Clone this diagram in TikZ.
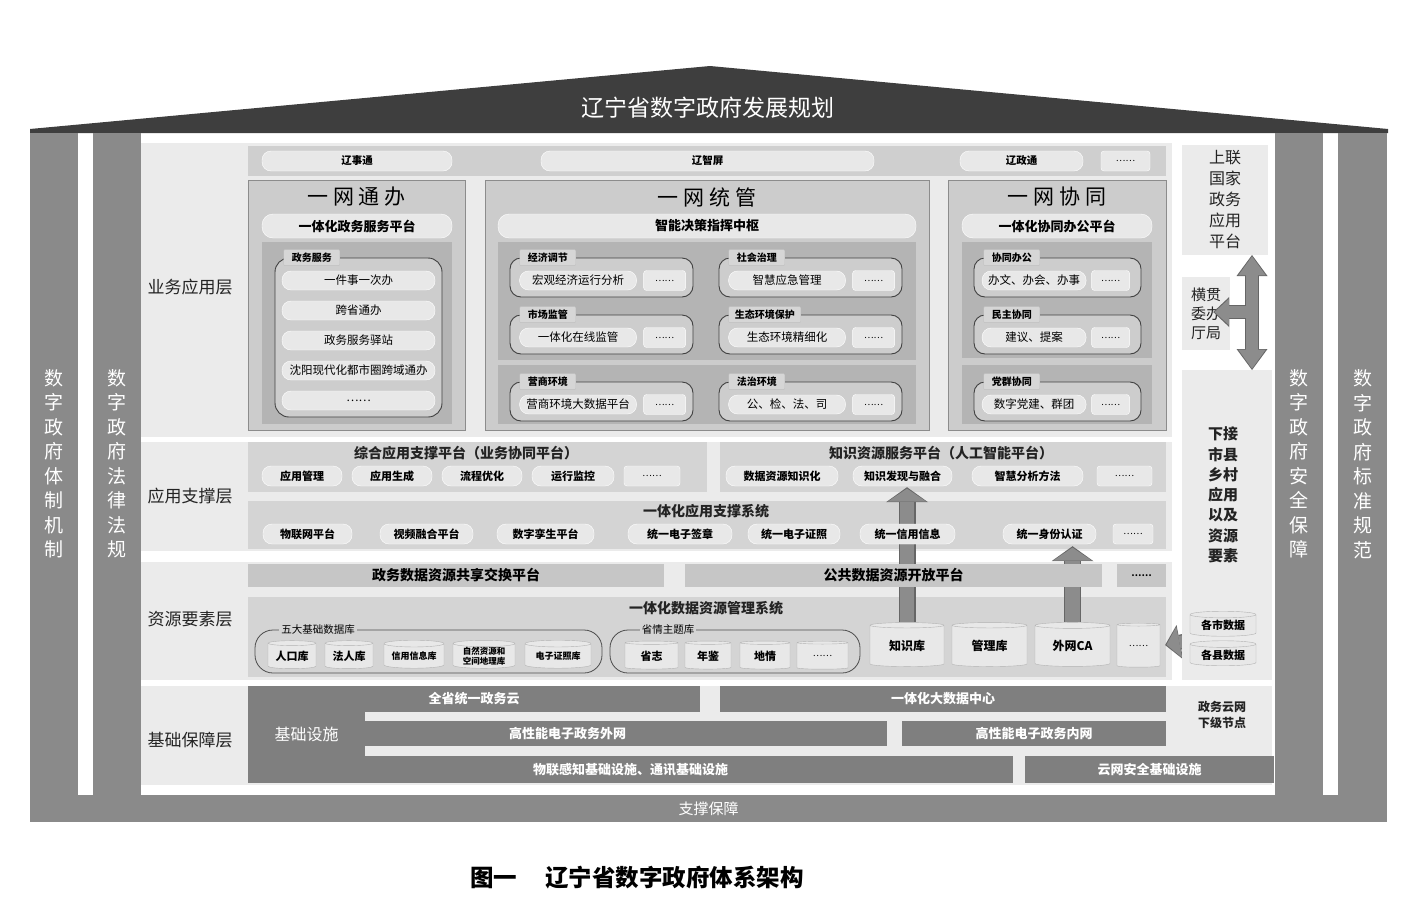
\documentclass[tikz,border=0pt]{standalone}
\usepackage{fontspec}
\setmainfont{Noto Sans CJK SC}
\usetikzlibrary{arrows.meta, positioning, shapes.geometric, calc}
\definecolor{roofgray}{RGB}{62,62,62}
\definecolor{pillargray}{RGB}{138,138,138}
\definecolor{bandgray}{RGB}{235,235,235}
\definecolor{stripgray}{RGB}{207,207,207}
\definecolor{boxgray}{RGB}{204,204,204}
\definecolor{panelgray}{RGB}{180,180,180}
\definecolor{framegray}{RGB}{205,205,205}
\definecolor{tabgray}{RGB}{214,214,214}
\definecolor{pillgray}{RGB}{232,232,232}
\definecolor{platgray}{RGB}{212,212,212}
\definecolor{sharegray}{RGB}{198,198,198}
\definecolor{infragray}{RGB}{127,127,127}
\definecolor{arrowgray}{RGB}{140,140,140}
\definecolor{inkgray}{RGB}{35,35,35}
\newcommand{\fsz}[1]{\fontsize{#1}{#1}\selectfont}
\pgfdeclarelayer{bg}
\pgfdeclarelayer{arr}
\pgfsetlayers{bg,arr,main}

\begin{document}
\begin{tikzpicture}[x=1pt, y=-1pt,
    pillar/.style={fill=pillargray, text=white, align=center, inner sep=0pt,
                   font=\fontsize{19}{24.5}\selectfont},
    band/.style={fill=bandgray, inner sep=0pt},
    lyr/.style={font=\fsz{17}, text=inkgray},
    strip/.style={fill=stripgray, inner sep=0pt},
    bigbox/.style={fill=boxgray, draw=black!45, inner sep=0pt},
    bigtitle/.style={font=\fsz{21}, text=black},
    subpill/.style={fill=pillgray, draw=white, rounded corners=11pt, minimum height=24pt,
                    font=\bfseries\fsz{13}, inner sep=0pt},
    pill/.style={fill=pillgray, draw=white, rounded corners=9pt, minimum height=20pt,
                 font=\bfseries\fsz{10.5}, inner sep=0pt},
    item/.style={fill=pillgray, draw=white, rounded corners=9pt, minimum height=19pt,
                 font=\fsz{11.5}, inner sep=0pt},
    more/.style={fill=pillgray, draw=white, rounded corners=3pt, minimum height=20pt,
                 font=\fsz{9}, inner sep=0pt},
    panel/.style={fill=panelgray, inner sep=0pt},
    grp/.style={fill=framegray, draw=black!75, line width=0.9pt, rounded corners=11pt,
                minimum height=39pt, inner sep=0pt},
    tab/.style={fill=tabgray, draw=black!25, font=\bfseries\fsz{10}, minimum height=16pt,
                inner sep=2pt, rounded corners=1pt},
    plat/.style={fill=platgray, inner sep=0pt},
    ptitle/.style={font=\bfseries\fsz{14}, text=inkgray},
    share/.style={fill=sharegray, font=\bfseries\fsz{14}, inner sep=0pt, minimum height=23pt},
    ring/.style={draw=black!70, line width=0.8pt, rounded corners=18pt, minimum height=43pt,
                 inner sep=0pt},
    db/.style={cylinder, shape border rotate=90, aspect=0.15, draw=black!30, fill=pillgray,
               inner sep=0pt, font=\bfseries\fsz{11}},
    infra/.style={fill=infragray, text=white, font=\bfseries\fsz{13}, inner sep=0pt},
    side/.style={fill=bandgray, inner sep=0pt, align=center, text=inkgray},
    edge/.style={draw=black!60},
    core/.style={draw=arrowgray}
  ]
  \useasboundingbox (0,0) rectangle (1420,916);

  % roof and frame
  \fill[roofgray] (30,133) -- (30,129) -- (710,66) -- (1388,129) -- (1388,133) -- cycle;
  \node[font=\fsz{23}, text=white] (roof) at (708,108) {辽宁省数字政府发展规划};

  \node[pillar, minimum width=48pt, minimum height=662pt] (mech) at (54,464) {数\\字\\政\\府\\体\\制\\机\\制};
  \node[pillar, minimum width=48pt, minimum height=662pt] (law) at (117,464) {数\\字\\政\\府\\法\\律\\法\\规};
  \node[pillar, minimum width=48pt, minimum height=662pt] (safe) at (1299,464) {数\\字\\政\\府\\安\\全\\保\\障};
  \node[pillar, minimum width=49pt, minimum height=662pt] (norm) at (1362.5,464) {数\\字\\政\\府\\标\\准\\规\\范};
  \node[pillar, minimum width=1357pt, minimum height=27pt, font=\fsz{15}] (base) at (708.5,808.5) {支撑保障};

  % layer bands
  \begin{pgfonlayer}{bg}
    \node[band, minimum width=1031pt, minimum height=294pt] (bizband) at (656.5,290) {};
    \node[band, minimum width=1031pt, minimum height=109pt] (supband) at (656.5,496.5) {};
    \node[band, minimum width=1031pt, minimum height=118pt] (resband) at (656.5,621) {};
    \node[band, minimum width=1131pt, minimum height=99pt] (infband) at (706.5,735.5) {};
    \node[plat, minimum width=459pt, minimum height=50pt] (comboplat) at (477.5,467) {};
    \node[plat, minimum width=446pt, minimum height=50pt] (knowplat) at (943,467) {};
    \node[plat, minimum width=918pt, minimum height=48pt] (supsys) at (707,525) {};
    \node[plat, minimum width=918pt, minimum height=80pt] (datasys) at (707,637) {};
  \end{pgfonlayer}

  \node[lyr] (bizlbl) at (190,287) {业务应用层};
  \node[lyr] (suplbl) at (190,496) {应用支撑层};
  \node[lyr] (reslbl) at (190,619) {资源要素层};
  \node[lyr] (inflbl) at (190,740) {基础保障层};

  % right column
  \node[side, minimum width=86pt, minimum height=110pt, font=\fontsize{16}{21}\selectfont] (upper) at (1225,200) {上联\\国家\\政务\\应用\\平台};
  \node[side, minimum width=48pt, minimum height=73pt, font=\fontsize{15}{19}\selectfont] (cross) at (1206,313.5) {横贯\\委办\\厅局};
  \node[side, minimum width=90pt, minimum height=310pt] (lower) at (1227,525) {};
  \node[align=center, text=inkgray, font=\bfseries\fontsize{15}{20.3}\selectfont] (lowertxt) at (1223,495) {下接\\市县\\乡村\\应用\\以及\\资源\\要素};

  % business apps
  \node[strip, minimum width=918pt, minimum height=30pt] (apps) at (707,161) {};
  \node[pill, minimum width=190pt] (lst) at (357,161) {辽事通};
  \node[pill, minimum width=333pt] (lzp) at (707.5,161) {辽智屏};
  \node[pill, minimum width=123pt] (lzt) at (1021.5,161) {辽政通};
  \node[more, minimum width=49pt] (appmore) at (1125.5,161) {……};

  \node[bigbox, minimum width=217pt, minimum height=250pt] (tongban) at (356.5,305) {};
  \node[bigbox, minimum width=444pt, minimum height=250pt] (tongguan) at (707,305) {};
  \node[bigbox, minimum width=218pt, minimum height=250pt] (xietong) at (1057,305) {};
  \node[bigtitle] (tongbant) at (356.5,197) {一 网 通 办};
  \node[bigtitle] (tongguant) at (707,197) {一 网 统 管};
  \node[bigtitle] (xietongt) at (1057,197) {一 网 协 同};
  \node[subpill, minimum width=190pt] (govplat) at (357,226) {一体化政务服务平台};
  \node[subpill, minimum width=418pt] (hub) at (707,226) {智能决策指挥中枢};
  \node[subpill, minimum width=190pt] (offplat) at (1057,226) {一体化协同办公平台};

  \node[panel, minimum width=190pt, minimum height=182pt] (govpanel) at (357,333) {};
  \node[panel, minimum width=418pt, minimum height=118pt] (mgpanel) at (707,301) {};
  \node[panel, minimum width=418pt, minimum height=59pt] (envpanel) at (707,394.5) {};
  \node[panel, minimum width=190pt, minimum height=116pt] (copanel) at (1057,300) {};
  \node[panel, minimum width=190pt, minimum height=59pt] (ptpanel) at (1057,394.5) {};

  \node[grp, minimum width=167pt, minimum height=159pt, rounded corners=14pt] (gov) at (358.5,337.5) {};
  \node[tab, minimum width=56pt, anchor=west] (govtab) at ($(gov.north west)+(9,0)$) {政务服务};
  \foreach \t [count=\i] in {一件事一次办, 跨省通办, 政务服务驿站, 沈阳现代化都市圈跨域通办, ……}
    \node[item, minimum width=153pt] (gov\i) at (358.5,250.5+30*\i) {\t};

  \foreach \g/\tabtxt/\itm/\cx/\cy/\tw in {
      econ/经济调节/宏观经济运行分析/601.5/277.5/56,
      soc/社会治理/智慧应急管理/810.5/277.5/56,
      mkt/市场监管/一体化在线监管/601.5/334.5/56,
      eco/生态环境保护/生态环境精细化/810.5/334.5/72,
      biz/营商环境/营商环境大数据平台/601.5/401.5/56,
      rule/法治环境/公、检、法、司/810.5/401.5/56}{
    \node[grp, minimum width=183pt] (\g) at (\cx,\cy) {};
    \node[tab, minimum width=\tw pt, anchor=west] (\g tab) at ($(\g.north west)+(10,0)$) {\tabtxt};
    \node[item, minimum width=117pt] (\g itm) at ($(\g.west)+(68.5,3)$) {\itm};
    \node[more, minimum width=42pt] (\g more) at ($(\g.west)+(155,3)$) {……};
  }

  \foreach \g/\tabtxt/\itm/\cy in {
      coop/协同办公/办文、办会、办事/277.5,
      demo/民主协同/建议、提案/334.5,
      party/党群协同/数字党建、群团/401.5}{
    \node[grp, minimum width=167pt] (\g) at (1057.5,\cy) {};
    \node[tab, minimum width=56pt, anchor=west] (\g tab) at ($(\g.north west)+(10,0)$) {\tabtxt};
    \node[item, minimum width=104pt] (\g itm) at ($(\g.west)+(60.5,3)$) {\itm};
    \node[more, minimum width=38pt] (\g more) at ($(\g.west)+(137,3)$) {……};
  }

  % application support
  \node[ptitle] (combot) at (466,453) {综合应用支撑平台（业务协同平台）};
  \foreach \n/\t/\cx/\w in {appm/应用管理/302/80, appg/应用生成/392/80, flow/流程优化/482/80, runm/运行监控/573/82}
    \node[pill, minimum width=\w pt, font=\bfseries\fsz{11}] (\n) at (\cx,476) {\t};
  \node[more, minimum width=56pt] (combomore) at (652,476) {……};

  \node[ptitle] (knowt) at (941,453) {知识资源服务平台（人工智能平台）};
  \foreach \n/\t/\cx/\w in {kres/数据资源知识化/782/112, kfind/知识发现与融合/902.5/99, kana/智慧分析方法/1027.5/111}
    \node[pill, minimum width=\w pt, font=\bfseries\fsz{11}] (\n) at (\cx,476) {\t};
  \node[more, minimum width=55pt] (knowmore) at (1124.5,476) {……};

  \node[ptitle] (supsyst) at (706,511) {一体化应用支撑系统};
  \foreach \n/\t/\cx/\w in {iot/物联网平台/307.5/89, video/视频融合平台/426.5/93, twin/数字孪生平台/545.5/97,
      sign/统一电子签章/680/104, lic/统一电子证照/794/92, credit/统一信用信息/907.5/95, uid/统一身份认证/1049.5/93}
    \node[pill, minimum width=\w pt, font=\bfseries\fsz{11}] (\n) at (\cx,534) {\t};
  \node[more, minimum width=40pt] (supmore) at (1133,534) {……};

  % resources
  \node[share, minimum width=416pt] (exch) at (456,575.5) {政务数据资源共享交换平台};
  \node[share, minimum width=417pt] (open) at (893.5,575.5) {公共数据资源开放平台};
  \node[share, minimum width=49pt, font=\bfseries\fsz{9}] (sharemore) at (1141.5,575.5) {……};

  \node[ptitle] (datasyst) at (706,608) {一体化数据资源管理系统};
  \node[ring, minimum width=347pt] (basicdb) at (428.5,651.5) {};
  \node[fill=platgray, inner sep=2pt, font=\fsz{10.5}] (basicdbt) at (318,630) {五大基础数据库};
  \node[db, minimum width=48pt, minimum height=28pt] (popdb) at (292,656) {人口库};
  \node[db, minimum width=48pt, minimum height=28pt] (legdb) at (349,656) {法人库};
  \node[db, minimum width=60pt, minimum height=28pt, font=\bfseries\fsz{9}] (crdb) at (414,656) {信用信息库};
  \node[db, minimum width=62pt, minimum height=28pt, align=center, font=\bfseries\fontsize{8.5}{9.5}\selectfont] (geodb) at (484,656) {自然资源和\\空间地理库};
  \node[db, minimum width=66pt, minimum height=28pt, font=\bfseries\fsz{9}] (licdb) at (558,656) {电子证照库};

  \node[ring, minimum width=250pt] (provdb) at (735,651.5) {};
  \node[fill=platgray, inner sep=2pt, font=\fsz{10.5}] (provdbt) at (668,630) {省情主题库};
  \foreach \n/\t/\cx/\w in {chron/省志/651.5/53, year/年鉴/708/46, local/地情/765/50}
    \node[db, minimum width=\w pt, minimum height=28pt] (\n) at (\cx,656) {\t};
  \node[db, minimum width=51pt, minimum height=28pt, font=\fsz{9}] (provmore) at (822.5,656) {……};

  \foreach \n/\t/\cx/\w in {kdb/知识库/907/74, mdb/管理库/989.5/75, wca/外网CA/1072.5/75}
    \node[db, minimum width=\w pt, minimum height=44pt, font=\bfseries\fsz{12}] (\n) at (\cx,646) {\t};
  \node[db, minimum width=43pt, minimum height=44pt, font=\fsz{9}] (odb) at (1138.5,646) {……};

  \node[db, minimum width=66pt, minimum height=25pt] (citydb) at (1223,625.5) {各市数据};
  \node[db, minimum width=66pt, minimum height=25pt] (countydb) at (1223,655) {各县数据};

  % infrastructure
  \node[infra, minimum width=452pt, minimum height=26pt] (cloud) at (474,699) {全省统一政务云};
  \node[infra, minimum width=446pt, minimum height=26pt] (bigdata) at (943,699) {一体化大数据中心};
  \node[infra, minimum width=639pt, minimum height=25pt] (extnet) at (567.5,733.5) {高性能电子政务外网};
  \node[infra, minimum width=264pt, minimum height=25pt] (intnet) at (1034,733.5) {高性能电子政务内网};
  \node[infra, minimum width=765pt, minimum height=27pt] (iotnet) at (630.5,769.5) {物联感知基础设施、通讯基础设施};
  \node[infra, minimum width=249pt, minimum height=27pt] (secnet) at (1149.5,769.5) {云网安全基础设施};
  \node[infra, minimum width=117pt, minimum height=97pt, font=\fsz{16}] (infra) at (306.5,734.5) {基础设施};
  \node[align=center, text=inkgray, font=\bfseries\fontsize{12}{16}\selectfont] (subnode) at (1222,715) {政务云网\\下级节点};

  % fat arrows under the pills
  \begin{pgfonlayer}{arr}
    \draw[edge, line width=17pt, shorten >=-5pt, -{Triangle[width=42pt,length=15pt,line width=0pt]}] (kdb.north) -- (knowplat.south -| kdb.north);
    \draw[core, line width=14.6pt, shorten >=-3.6pt, -{Triangle[width=38.5pt,length=13pt,line width=0pt]}] (kdb.north) -- (knowplat.south -| kdb.north);
    \draw[edge, line width=17pt, shorten >=2pt, -{Triangle[width=42pt,length=15pt,line width=0pt]}] (wca.north) -- (uid.south -| wca.north);
    \draw[core, line width=14.6pt, shorten >=3.4pt, -{Triangle[width=38.5pt,length=13pt,line width=0pt]}] (wca.north) -- (uid.south -| wca.north);
    \draw[edge, line width=15pt, shorten >=5pt, -{Triangle[width=35pt,length=15pt,line width=0pt]}] ($(citydb.west)!0.5!(countydb.west)$) -- (odb.east);
    \draw[core, line width=12.6pt, shorten >=6.4pt, -{Triangle[width=31.5pt,length=13pt,line width=0pt]}] ($(citydb.west)!0.5!(countydb.west)$) -- (odb.east);
  \end{pgfonlayer}

  % two-way arrow on the right
  \coordinate (ttop) at (1252,255);
  \coordinate (tbot) at (1252,370);
  \coordinate (tmid) at (1252,312);
  \draw[edge, line width=14pt, {Triangle[width=31pt,length=21pt,line width=0pt]}-{Triangle[width=31pt,length=21pt,line width=0pt]}] (ttop) -- (tbot);
  \draw[edge, line width=14pt, shorten >=-17pt, -{Triangle[width=30pt,length=16pt,line width=0pt]}] (tmid) -- (tmid -| cross.east);
  \draw[core, line width=11.6pt, shorten <=1.4pt, shorten >=1.4pt, {Triangle[width=27.5pt,length=19pt,line width=0pt]}-{Triangle[width=27.5pt,length=19pt,line width=0pt]}] (ttop) -- (tbot);
  \draw[core, line width=11.6pt, shorten >=-15.6pt, -{Triangle[width=26.5pt,length=14.5pt,line width=0pt]}] (tmid) -- (tmid -| cross.east);

  \node[font=\bfseries\fsz{23.5}] (caption) at (637,878) {图一\hspace{28pt}辽宁省数字政府体系架构};
\end{tikzpicture}
\end{document}
